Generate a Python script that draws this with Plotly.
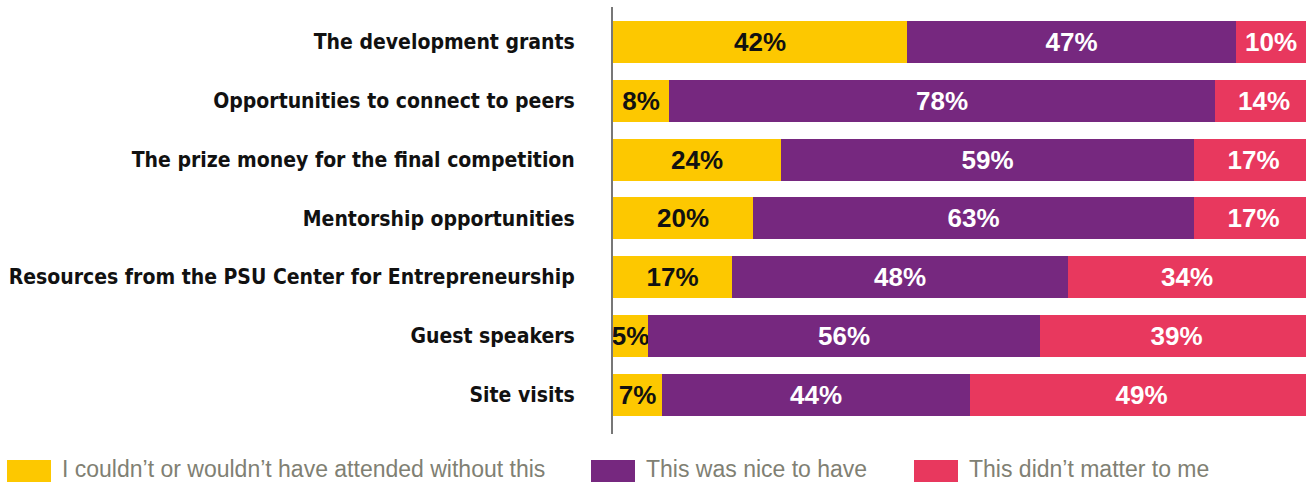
import plotly.graph_objects as go

# Survey items, top to bottom
categories = [
    "The development grants",
    "Opportunities to connect to peers",
    "The prize money for the final competition",
    "Mentorship opportunities",
    "Resources from the PSU Center for Entrepreneurship",
    "Guest speakers",
    "Site visits",
]

series_names = [
    "I couldn\u2019t or wouldn\u2019t have attended without this",
    "This was nice to have",
    "This didn\u2019t matter to me",
]
couldnt_attend = [42, 8, 24, 20, 17, 5, 7]
nice_to_have = [47, 78, 59, 63, 48, 56, 44]
didnt_matter = [10, 14, 17, 17, 34, 39, 49]

colors = ["#FDC800", "#76287F", "#E8385E"]
text_colors = ["#111111", "#FFFFFF", "#FFFFFF"]

W, H = 1306, 482
M_L, M_R, M_T, M_B = 613, 0, 7, 48
PLOT_W = W - M_L - M_R
PLOT_H = H - M_T - M_B

fig = go.Figure()
for name, vals, col, tcol in zip(series_names,
                                 [couldnt_attend, nice_to_have, didnt_matter],
                                 colors, text_colors):
    fig.add_trace(go.Bar(
        y=categories,
        x=vals,
        name=name,
        orientation="h",
        marker=dict(color=col, line=dict(width=0)),
        text=[f"{v}%" for v in vals],
        textposition="inside",
        insidetextanchor="middle",
        textangle=0,
        constraintext="none",
        textfont=dict(family="Liberation Sans, Arial, sans-serif",
                      size=26, color=tcol, weight="bold"),
        showlegend=False,
        hoverinfo="skip",
    ))


def px_x(px):
    return (px - M_L) / PLOT_W


def px_y(py):
    return (H - M_B - py) / PLOT_H


# Legend drawn as swatches with labels beneath the plot
swatch_x = [7, 591, 914]
shapes = []
annotations = []
for name, col, sx in zip(series_names, colors, swatch_x):
    shapes.append(dict(
        type="rect", xref="paper", yref="paper",
        x0=px_x(sx), x1=px_x(sx + 44), y0=px_y(460), y1=px_y(492),
        fillcolor=col, line=dict(width=0), layer="above",
    ))
    annotations.append(dict(
        xref="paper", yref="paper", x=px_x(sx + 54), y=px_y(469),
        xanchor="left", yanchor="middle", showarrow=False,
        text=name, borderpad=0,
        font=dict(family="Liberation Sans, Arial, sans-serif",
                  size=23, color="#808073"),
    ))

fig.update_layout(
    barmode="stack",
    bargap=0.285,
    width=W, height=H,
    margin=dict(l=M_L, r=M_R, t=M_T, b=M_B, pad=0, autoexpand=False),
    paper_bgcolor="white",
    plot_bgcolor="white",
    uniformtext=dict(minsize=26, mode="show"),
    shapes=shapes,
    annotations=annotations,
    xaxis=dict(range=[0, 99], showgrid=False, zeroline=False,
               showticklabels=False, showline=False, fixedrange=True,
               automargin=False),
    yaxis=dict(
        type="category",
        categoryorder="array", categoryarray=categories,
        range=[6.672, -0.596],
        showgrid=False, zeroline=False,
        showline=True, linecolor="#777777", linewidth=2,
        ticks="", ticklabelstandoff=32, automargin=False,
        tickfont=dict(family="DejaVu Sans Condensed, Liberation Sans Narrow, Arial Narrow, sans-serif",
                      size=21, color="#111111", weight="bold"),
        fixedrange=True,
    ),
)

fig.write_html("out.html")
